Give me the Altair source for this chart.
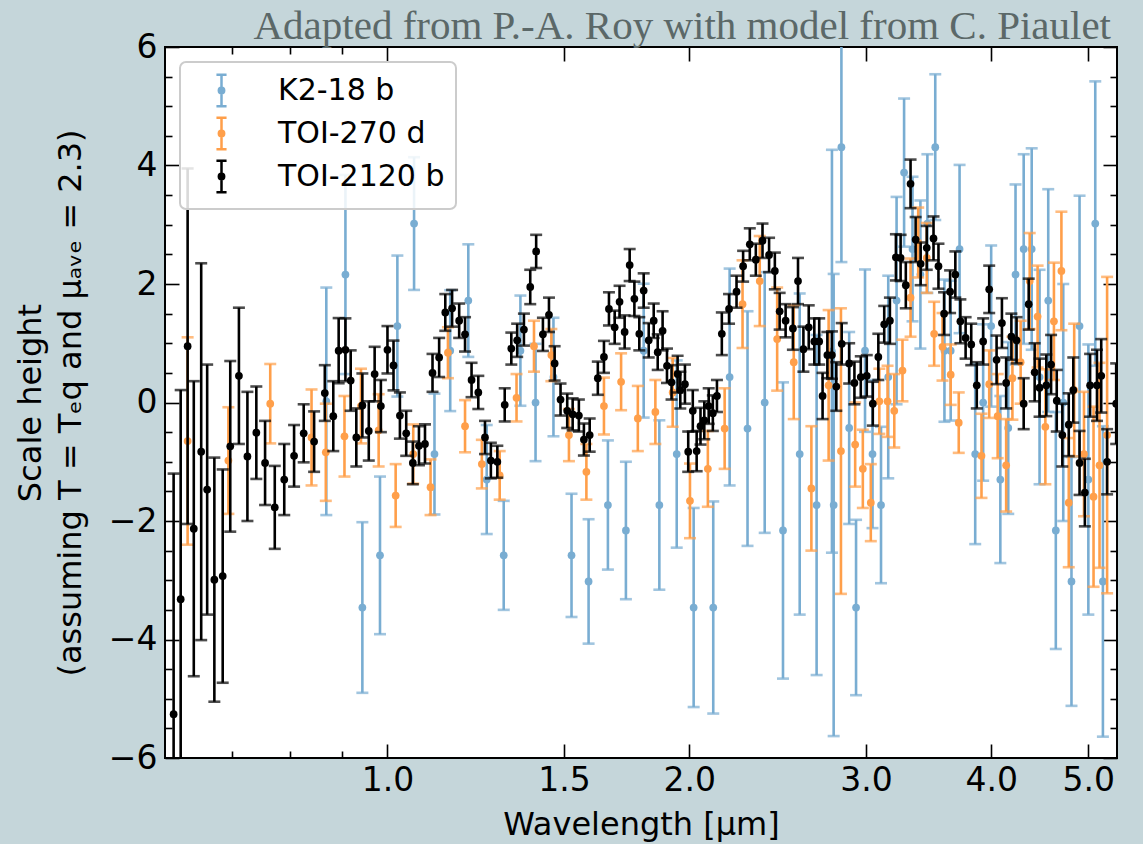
import altair as alt
import pandas as pd

series_names = ["K2-18 b", "TOI-270 d", "TOI-2120 b"]
series_colors = ["#79add2", "#ff9f4a", "#000000"]

k2_wl = [0.869, 0.908, 0.944, 0.983, 1.023, 1.063, 1.114, 1.155, 1.204, 1.256,
         1.306, 1.357, 1.405, 1.464, 1.526, 1.587, 1.659, 1.729, 1.801, 1.867,
         1.943, 2.020, 2.113, 2.194, 2.286, 2.378, 2.480, 2.577, 2.679, 2.775,
         2.786, 2.836, 2.887, 2.933, 2.994, 3.046, 3.106, 3.158, 3.219, 3.275,
         3.339, 3.400, 3.455, 3.518, 3.593, 3.645, 3.720, 3.856, 3.927, 4.000,
         4.085, 4.16, 4.23, 4.31, 4.39, 4.47, 4.56, 4.64, 4.72, 4.81,
         4.90, 5.00, 5.08, 5.17]
k2_val = [0.02, 2.16, -3.46, -2.58, 1.29, 3.02, -0.87, 0.875, 1.72, -1.30,
          -2.58, 0.875, 0.0, 0.43, -2.58, -3.02, -1.73, -2.16, 0.875, -1.73,
          -0.87, -3.46, -3.46, 0.43, -0.44, 0.0, -2.16, -0.87, -1.73, 0.865,
          -1.73, 4.31, -0.43, -3.46, 0.875, -0.87, -1.73, 0.43, 1.72, 3.88,
          2.59, 2.16, 3.02, 4.31, 0.875, 0.875, 2.59, -0.87, 0.0, 1.29,
          -1.30, -0.43, 2.16, 2.59, 2.59, 0.43, 1.72, -2.16, 0.0, -3.02,
          1.29, -1.30, 3.02, -3.02]
k2_err = [1.92, 1.68, 1.44, 1.33, 1.19, 1.12, 1.02, 1.02, 0.95, 0.92,
          0.92, 0.93, 0.99, 1.0, 1.04, 1.05, 1.09, 1.16, 1.13, 1.43,
          1.58, 1.68, 1.79, 1.83, 1.98, 2.2, 2.5, 2.71, 2.87, 3.4,
          3.9, 1.94, 1.62, 1.48, 1.37, 1.25, 1.32, 1.71, 1.75, 1.25,
          1.22, 1.25, 1.17, 1.23, 1.2, 1.18, 1.42, 1.52, 1.32, 1.36,
          1.41, 1.45, 1.52, 1.6, 1.7, 1.81, 1.88, 2.0, 2.0, 2.1,
          2.2, 2.28, 2.4, 2.62]

toi270_wl = [0.632, 0.694, 0.764, 0.840, 0.868, 0.906, 0.941, 0.980, 1.019, 1.061,
             1.104, 1.149, 1.195, 1.242, 1.294, 1.345, 1.400, 1.457, 1.517, 1.579,
             1.644, 1.710, 1.777, 1.850, 1.925, 2.003, 2.087, 2.169, 2.260, 2.351,
             2.447, 2.542, 2.647, 2.754, 2.833, 2.927, 2.979, 3.034, 3.094, 3.153,
             3.202, 3.263, 3.324, 3.383, 3.450, 3.509, 3.577, 3.645, 3.713, 3.912,
             3.982, 4.06, 4.14, 4.20, 4.28, 4.37, 4.45, 4.53, 4.62, 4.70,
             4.78, 4.84, 4.95, 5.06, 5.13, 5.22]
toi270_val = [-0.65, -0.98, -0.02, -0.59, -0.84, -0.57, -0.06, -0.47, -1.57, -0.87,
              -1.43, 0.84, -0.40, -1.04, -1.23, 0.08, 0.95, 0.80, -0.55, -1.17,
              -0.06, 0.35, -0.27, -0.16, 0.17, -1.66, -1.12, -0.44, 1.66, 2.05,
              1.07, 0.68, -1.45, 0.29, -0.82, -0.71, -1.12, -1.69, 0.02, 0.02,
              -0.14, 0.54, 1.77, 2.70, 2.44, 1.16, 0.94, 0.47, -0.34, -0.90,
              0.31, -0.23, -1.06, 0.41, 0.68, 2.05, 1.45, -0.41, 1.37, 2.22,
              -1.69, 0.21, -0.87, -1.59, -1.06, -0.55]
toi270_err = [1.75, 0.90, 0.67, 0.81, 0.82, 0.68, 0.63, 0.61, 0.53, 0.50,
              0.47, 0.43, 0.44, 0.41, 0.41, 0.40, 0.43, 0.44, 0.44, 0.47,
              0.48, 0.48, 0.55, 0.54, 0.58, 0.63, 0.64, 0.68, 0.74, 0.76,
              0.87, 0.96, 1.05, 1.27, 2.41, 0.71, 0.66, 0.65, 0.55, 0.60,
              0.62, 0.52, 0.66, 0.59, 0.59, 0.54, 0.57, 0.51, 0.51, 0.71,
              0.57, 0.71, 0.78, 0.70, 0.70, 0.81, 0.86, 0.97, 0.99, 1.0,
              1.09, 1.12, 1.05, 1.52, 1.73, 2.67]

toi2120_wl = [0.612, 0.622, 0.632, 0.641, 0.652, 0.661, 0.672, 0.685, 0.697, 0.711,
              0.725, 0.740, 0.755, 0.772, 0.789, 0.807, 0.825, 0.845, 0.866, 0.883,
              0.894, 0.908, 0.919, 0.931, 0.944, 0.958, 0.971, 0.985, 1.000, 1.014,
              1.029, 1.044, 1.060, 1.075, 1.090, 1.109, 1.126, 1.142, 1.160, 1.179,
              1.195, 1.213, 1.232, 1.251, 1.268, 1.287, 1.309, 1.329, 1.347, 1.368,
              1.388, 1.407, 1.429, 1.449, 1.468, 1.488, 1.511, 1.530, 1.552, 1.570,
              1.591, 1.621, 1.644, 1.663, 1.685, 1.704, 1.724, 1.744, 1.763, 1.783,
              1.801, 1.822, 1.843, 1.860, 1.881, 1.900, 1.920, 1.947, 1.959, 1.980,
              1.995, 2.016, 2.034, 2.052, 2.070, 2.091, 2.111, 2.131, 2.155, 2.191,
              2.229, 2.263, 2.298, 2.330, 2.366, 2.402, 2.434, 2.461, 2.495, 2.537,
              2.567, 2.599, 2.631, 2.665, 2.695, 2.716, 2.746, 2.775, 2.803, 2.838,
              2.887, 2.922, 2.965, 3.006, 3.048, 3.087, 3.129, 3.170, 3.214, 3.249,
              3.288, 3.324, 3.363, 3.402, 3.450, 3.504, 3.544, 3.590, 3.640, 3.684,
              3.727, 3.772, 3.821, 3.870, 3.927, 3.982, 4.05, 4.10, 4.14, 4.19,
              4.24, 4.31, 4.36, 4.42, 4.47, 4.54, 4.59, 4.65, 4.71, 4.78,
              4.83, 4.90, 4.96, 5.02, 5.10, 5.15, 5.22, 5.33]
toi2120_val = [-5.26, -3.32, 0.95, -2.13, -0.83, -1.47, -2.99, -2.93, -0.74, 0.45,
               -0.91, -0.51, -1.02, -1.77, -1.30, -0.90, -0.52, -0.66, 0.16, -0.23,
               0.875, 0.89, 0.37, -0.59, -0.05, -0.48, 0.48, -0.06, 0.89, 0.625,
               -0.22, -0.52, -1.02, -0.73, -0.70, 0.50, 0.76, 1.52, 1.59, 1.38,
               1.15, 0.38, 0.17, -0.59, -0.98, -1.0, -0.04, 0.91, 1.05, 1.23,
               1.95, 2.55, 1.15, 1.48, 0.66, 0.05, -0.14, -0.20, -0.22, -0.625,
               -0.55, 0.41, 0.77, 1.58, 1.27, 1.70, 1.19, 2.32, 1.75, 1.16,
               1.89, 1.05, 1.38, 0.85, 1.21, 0.62, 0.34, 0.48, 0.21, 0.31,
               -0.83, -0.14, -0.82, -0.40, -0.30, -0.06, -0.18, 0.11, 1.16, 1.58,
               1.87, 2.30, 2.67, 2.41, 2.73, 2.49, 2.22, 1.54, 1.38, 1.25,
               2.05, 0.90, 1.27, 1.03, 1.03, 0.11, 0.80, 0.80, 0.27, 0.99,
               0.66, 0.33, 0.43, 0.45, -0.02, 0.77, 1.32, 1.38, 2.45, 2.44,
               1.98, 3.69, 2.75, 2.34, 2.61, 2.77, 2.30, 1.50, 1.87, 2.16,
               1.37, 1.09, 0.98, 0.29, 1.03, 1.91, 0.72, 1.34, 0.33, 1.11,
               1.05, -0.02, 1.66, 0.51, 0.25, 0.29, 0.64, 0.03, -0.55, -0.375,
               0.21, -1.02, -1.52, 0.29, 0.29, 0.45, -1.0, -0.02]
toi2120_err = [4.06, 3.53, 3.0, 2.49, 3.18, 2.11, 2.06, 1.80, 1.44, 1.15,
               1.09, 0.78, 0.71, 0.70, 0.60, 0.52, 0.49, 0.51, 0.47, 0.59,
               0.55, 0.53, 0.51, 0.49, 0.54, 0.50, 0.46, 0.44, 0.40, 0.42,
               0.39, 0.38, 0.36, 0.33, 0.33, 0.32, 0.33, 0.31, 0.31, 0.29,
               0.29, 0.29, 0.28, 0.28, 0.30, 0.27, 0.28, 0.27, 0.28, 0.27,
               0.29, 0.28, 0.28, 0.29, 0.29, 0.27, 0.29, 0.27, 0.27, 0.27,
               0.28, 0.28, 0.27, 0.28, 0.28, 0.27, 0.28, 0.27, 0.29, 0.28,
               0.29, 0.29, 0.29, 0.30, 0.33, 0.29, 0.29, 0.31, 0.31, 0.33,
               0.34, 0.35, 0.34, 0.31, 0.32, 0.30, 0.30, 0.27, 0.36, 0.25,
               0.27, 0.26, 0.27, 0.27, 0.29, 0.29, 0.31, 0.31, 0.28, 0.36,
               0.39, 0.38, 0.37, 0.39, 0.39, 0.39, 0.39, 0.40, 0.41, 0.35,
               0.34, 0.36, 0.35, 0.35, 0.37, 0.39, 0.31, 0.39, 0.39, 0.39,
               0.39, 0.41, 0.38, 0.36, 0.37, 0.37, 0.38, 0.36, 0.36, 0.39,
               0.37, 0.35, 0.35, 0.39, 0.39, 0.40, 0.41, 0.42, 0.43, 0.39,
               0.39, 0.43, 0.43, 0.49, 0.49, 0.52, 0.50, 0.52, 0.53, 0.53,
               0.55, 0.54, 0.57, 0.53, 0.60, 0.62, 0.55, 0.68]

x_major = [1.0, 1.5, 2.0, 3.0, 4.0, 5.0]
x_minor = [0.7, 0.8, 0.9]
y_major = [-6, -4, -2, 0, 2, 4, 6]
y_minor = [v / 2 for v in range(-12, 13) if v % 4 != 0]

rows = []
for name, wls, vals, errs in [
    (series_names[0], k2_wl, k2_val, k2_err),
    (series_names[1], toi270_wl, toi270_val, toi270_err),
    (series_names[2], toi2120_wl, toi2120_val, toi2120_err),
]:
    for w, v, e in zip(wls, vals, errs):
        rows.append({"series": name, "wl": w, "val": v, "lo": v - e, "hi": v + e})
df = pd.DataFrame(rows)

FONT = "DejaVu Sans"
TICK_FS = 33

xs = alt.Scale(type="log", domain=[0.600, 5.34], nice=False)
ys = alt.Scale(domain=[-6, 6], nice=False)
cscale = alt.Scale(domain=series_names, range=series_colors)

common_axis = dict(domain=False, grid=False, tickColor="black", labelColor="black",
                   titleColor="black", labelFont=FONT, titleFont=FONT,
                   labelFontSize=TICK_FS, titleFontSize=32, titleFontWeight="normal")


def ax(orient, values, size, labels=False, **kw):
    d = dict(common_axis)
    d.update(dict(orient=orient, values=values, tickSize=size, offset=-size,
                  labels=labels, tickWidth=1.6))
    if not labels:
        d["title"] = None
    d.update(kw)
    return alt.Axis(**d)


x_bottom = ax("bottom", x_major, 14, labels=True, format=".1f", labelPadding=6,
              title="Wavelength [μm]", titlePadding=12, labelOverlap=False, labelFlush=False)
y_left = ax("left", y_major, 14, labels=True, format="d", labelPadding=8,
            title=["Scale height", "(assuming T = Tₑq and μₐᵥₑ = 2.3)"],
            titleFontSize=32, titlePadding=21, titleLineHeight=40)

legend_symbol = ("M0,-1V1M-0.32,-1H0.32M-0.32,1H0.32"
                 "M0.17,0A0.17,0.17,0,1,1,-0.17,0A0.17,0.17,0,1,1,0.17,0"
                 "M0.07,0A0.07,0.07,0,1,1,-0.07,0A0.07,0.07,0,1,1,0.07,0")

legend = alt.Legend(orient="none", legendX=15, legendY=15, title=None,
                    symbolType=legend_symbol, symbolSize=1000, symbolStrokeWidth=2.5,
                    symbolOffset=13, labelFont=FONT, labelFontSize=30, labelColor="black",
                    labelOffset=39, labelLimit=400, padding=11, rowPadding=0,
                    fillColor="rgba(255,255,255,0.85)", strokeColor="#cccccc",
                    cornerRadius=6)

base = alt.Chart(df)

layers = []
for i, name in enumerate(series_names):
    sub = base.transform_filter(alt.datum.series == name)
    first = i == 0
    rules = sub.mark_rule(strokeWidth=2.6, clip=True).encode(
        x=alt.X("wl:Q", scale=xs, axis=x_bottom if first else None),
        y=alt.Y("lo:Q", scale=ys, axis=y_left if first else None),
        y2="hi:Q",
        color=alt.Color("series:N", scale=cscale, legend=legend if first else None),
    )
    caps = sub.transform_fold(["lo", "hi"], as_=["end", "capy"]).mark_tick(
        orient="horizontal", size=12, thickness=2.6, clip=True
    ).encode(
        x=alt.X("wl:Q", scale=xs, axis=None),
        y=alt.Y("capy:Q", scale=ys, axis=None),
        color=alt.Color("series:N", scale=cscale, legend=None),
    )
    points = sub.mark_circle(size=60, opacity=1, clip=True).encode(
        x=alt.X("wl:Q", scale=xs, axis=None),
        y=alt.Y("val:Q", scale=ys, axis=None),
        color=alt.Color("series:N", scale=cscale, legend=None),
    )
    layers += [rules, caps, points]


def axis_layer(xaxis, yaxis):
    return base.mark_point(opacity=0).encode(
        x=alt.X("wl:Q", scale=xs, axis=xaxis),
        y=alt.Y("val:Q", scale=ys, axis=yaxis),
    )


layers.append(axis_layer(ax("bottom", x_minor, 7), ax("left", y_minor, 7)))
layers.append(axis_layer(ax("top", x_major, 14), ax("right", y_major, 14)))
layers.append(axis_layer(ax("top", x_minor, 7), ax("right", y_minor, 7)))

chart = alt.layer(*layers).resolve_axis(
    x="independent", y="independent"
).properties(
    width=952, height=711,
    padding={"left": 165, "top": 47, "right": 26, "bottom": 86},
    autosize=alt.AutoSizeParams(type="none"),
    background="#c5d6da",
    title=alt.TitleParams("Adapted from P.-A. Roy with model from C. Piaulet",
                          anchor="end", font="Liberation Serif", fontSize=41,
                          fontWeight="normal", color="#5b6868", offset=-17, dx=-6,
                          frame="group"),
).configure_view(
    fill="white", stroke="black", strokeWidth=2
).configure_legend(
    strokeWidth=2
)

chart.save("out.html", embed_options={"renderer": "svg", "actions": False})
